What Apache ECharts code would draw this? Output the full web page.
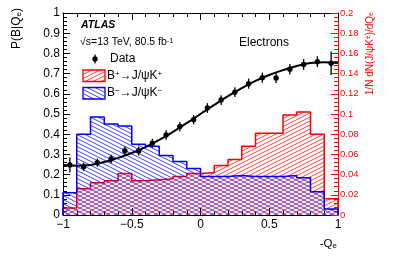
<!DOCTYPE html>
<html><head><meta charset="utf-8">
<script src="https://cdn.jsdelivr.net/npm/echarts@6/dist/echarts.min.js"></script>
<style>html,body{margin:0;padding:0;background:#fff}#c{width:399px;height:257px}</style>
</head><body><div id="c"></div>
<script>
// ---- data ----
const binEdges = [-1,-0.9,-0.8,-0.7,-0.6,-0.5,-0.4,-0.3,-0.2,-0.1,0,0.1,0.2,0.3,0.4,0.5,0.6,0.7,0.8,0.9,1];
const bPlus  = [0.007,0.026,0.032,0.034,0.041,0.034,0.035,0.036,0.038,0.041,0.042,0.049,0.055,0.068,0.081,0.081,0.099,0.102,0.080,0.016];
const bMinus = [0.022,0.080,0.097,0.090,0.088,0.070,0.068,0.059,0.053,0.046,0.038,0.038,0.039,0.038,0.038,0.038,0.039,0.037,0.023,0.006];
const dataX  = [-0.95,-0.85,-0.75,-0.65,-0.55,-0.45,-0.35,-0.25,-0.15,-0.05,0.05,0.15,0.25,0.35,0.45,0.55,0.65,0.75,0.85,0.95];
const dataY  = [0.248,0.239,0.259,0.277,0.318,0.317,0.355,0.396,0.438,0.472,0.530,0.569,0.608,0.650,0.680,0.678,0.722,0.745,0.759,0.751];
const dataErr= [0.037,0.020,0.020,0.021,0.022,0.022,0.022,0.023,0.023,0.023,0.024,0.024,0.024,0.025,0.025,0.025,0.026,0.027,0.027,0.058];
const fitX   = [-1,-0.9,-0.8,-0.7,-0.6,-0.5,-0.4,-0.3,-0.2,-0.1,0,0.1,0.2,0.3,0.4,0.5,0.6,0.7,0.8,0.9,1];
const fitY   = [0.247,0.244,0.248,0.262,0.283,0.307,0.336,0.372,0.412,0.455,0.500,0.545,0.588,0.628,0.664,0.693,0.717,0.738,0.752,0.756,0.753];
const xTickLabels = ['\u22121','\u22120.5','0','0.5','1'];
const leftTickLabels = ['0','0.1','0.2','0.3','0.4','0.5','0.6','0.7','0.8','0.9','1'];
const rightTickLabels = ['0','0.02','0.04','0.06','0.08','0.1','0.12','0.14','0.16','0.18','0.2'];

const FONT = '"Liberation Sans", Arial, Helvetica, sans-serif';
const RED = '#ff0000', BLUE = '#0000ff';

function hatch(color, dir) {
  const W = 8, H = 4;
  const c = document.createElement('canvas'); c.width = W; c.height = H;
  const g = c.getContext('2d');
  g.strokeStyle = color; g.lineWidth = 1;
  for (let m = -3; m <= 3; m++) {
    g.beginPath();
    if (dir > 0) { g.moveTo(-W, 2*H + m*H); g.lineTo(2*W, -H + m*H); }
    else { g.moveTo(-W, -H + m*H); g.lineTo(2*W, 2*H + m*H); }
    g.stroke();
  }
  return { image: c, repeat: 'repeat' };
}
const redHatch = hatch('rgba(255,0,0,0.75)', 1);
const blueHatch = hatch('rgba(0,0,255,0.75)', -1);

function histData(vals) {
  const d = [[binEdges[0], 0]];
  vals.forEach((v, i) => d.push([binEdges[i], v]));
  d.push([binEdges[binEdges.length - 1], vals[vals.length - 1]]);
  d.push([binEdges[binEdges.length - 1], 0]);
  return d;
}

const chart = echarts.init(document.getElementById('c'), null, { renderer: 'canvas' });
const tickCommon = { inside: true, length: 7, lineStyle: { color: '#000', width: 1 } };
const minorCommon = { show: true, splitNumber: 5, length: 4, lineStyle: { color: '#000', width: 1 } };

chart.setOption({
  animation: false,
  backgroundColor: '#fff',
  grid: { left: 63, right: 61, top: 13, bottom: 42, containLabel: false },
  xAxis: [
    { type: 'value', min: -1, max: 1, interval: 0.5, position: 'bottom',
      axisLine: { onZero: false, lineStyle: { color: '#000', width: 1 } },
      axisTick: tickCommon, minorTick: minorCommon, splitLine: { show: false },
      axisLabel: { color: '#000', fontSize: 12, fontFamily: FONT, margin: 4,
        formatter: v => xTickLabels[Math.round((v + 1) * 2)] } },
    { type: 'value', min: -1, max: 1, interval: 0.5, position: 'top',
      axisLine: { onZero: false, lineStyle: { color: '#000', width: 1 } },
      axisTick: tickCommon, minorTick: minorCommon, splitLine: { show: false },
      axisLabel: { show: false } }
  ],
  yAxis: [
    { type: 'value', min: 0, max: 1, interval: 0.1, position: 'left',
      axisLine: { onZero: false, lineStyle: { color: '#000', width: 1 } },
      axisTick: tickCommon, minorTick: minorCommon, splitLine: { show: false },
      axisLabel: { color: '#000', fontSize: 12, fontFamily: FONT, margin: 3,
        formatter: v => leftTickLabels[Math.round(v * 10)] } },
    { type: 'value', min: 0, max: 0.2, interval: 0.02, position: 'right',
      axisLine: { onZero: false, lineStyle: { color: RED, width: 1 } },
      axisTick: { inside: true, length: 7, lineStyle: { color: RED } },
      minorTick: { show: true, splitNumber: 5, length: 4, lineStyle: { color: RED } },
      splitLine: { show: false },
      axisLabel: { color: RED, fontSize: 9.5, fontFamily: FONT, margin: 2,
        formatter: v => rightTickLabels[Math.round(v * 50)] } }
  ],
  series: [
    { name: 'B+', type: 'line', xAxisIndex: 0, yAxisIndex: 1, step: 'end', symbol: 'none',
      data: histData(bPlus), lineStyle: { color: RED, width: 1.5 }, areaStyle: { color: redHatch, opacity: 1 }, z: 2 },
    { name: 'B-', type: 'line', xAxisIndex: 0, yAxisIndex: 1, step: 'end', symbol: 'none',
      data: histData(bMinus), lineStyle: { color: BLUE, width: 1.5 }, areaStyle: { color: blueHatch, opacity: 1 }, z: 3 },
    { name: 'Fit', type: 'line', xAxisIndex: 0, yAxisIndex: 0, smooth: 0.4, symbol: 'none',
      data: fitX.map((x, i) => [x, fitY[i]]), lineStyle: { color: '#000', width: 2 }, z: 5 },
    { name: 'Data', type: 'custom', xAxisIndex: 0, yAxisIndex: 0, z: 6,
      data: dataX.map((x, i) => [x, dataY[i], dataErr[i]]),
      encode: { x: 0, y: 1 },
      renderItem: function (params, api) {
        const x = api.value(0), y = api.value(1), e = api.value(2);
        const p = api.coord([x, y]), lo = api.coord([x, y - e]), hi = api.coord([x, y + e]);
        return { type: 'group', children: [
          { type: 'line', shape: { x1: p[0], y1: lo[1], x2: p[0], y2: hi[1] }, style: { stroke: '#000', lineWidth: 1.3 } },
          { type: 'circle', shape: { cx: p[0], cy: p[1], r: 2.7 }, style: { fill: '#000' } }
        ] };
      } }
  ],
  graphic: [
    { type: 'text', x: 81, y: 25, style: { text: 'ATLAS', font: 'italic bold 10.5px ' + FONT, fill: '#000', verticalAlign: 'middle' } },
    { type: 'text', x: 80, y: 42, style: { text: '{a|\u221As=13 TeV, 80.5 fb}{s|-1}', verticalAlign: 'middle',
      rich: { a: { fontSize: 10.5, fontFamily: FONT, fill: '#000' }, s: { fontSize: 7.5, fontFamily: FONT, fill: '#000', verticalAlign: 'top' } } } },
    { type: 'line', shape: { x1: 95, y1: 54.5, x2: 95, y2: 63.5 }, style: { stroke: '#000', lineWidth: 1.3 } },
    { type: 'circle', shape: { cx: 95, cy: 59, r: 2.7 }, style: { fill: '#000' } },
    { type: 'text', x: 110, y: 59, style: { text: 'Data', font: '12px ' + FONT, fill: '#000', verticalAlign: 'middle' } },
    { type: 'rect', shape: { x: 83, y: 70, width: 22, height: 11.5 }, style: { fill: redHatch, stroke: RED, lineWidth: 1.3 } },
    { type: 'text', x: 107, y: 76, style: { text: '{a|B}{s|+}{a|\u2192J/\u03C8K}{s|+}', verticalAlign: 'middle',
      rich: { a: { fontSize: 12, fontFamily: FONT, fill: '#000' }, s: { fontSize: 8, fontFamily: FONT, fill: '#000', verticalAlign: 'top' } } } },
    { type: 'rect', shape: { x: 83, y: 87.5, width: 22, height: 11.5 }, style: { fill: blueHatch, stroke: BLUE, lineWidth: 1.3 } },
    { type: 'text', x: 107, y: 93, style: { text: '{a|B}{s|\u2212}{a|\u2192J/\u03C8K}{s|\u2212}', verticalAlign: 'middle',
      rich: { a: { fontSize: 12, fontFamily: FONT, fill: '#000' }, s: { fontSize: 8, fontFamily: FONT, fill: '#000', verticalAlign: 'top' } } } },
    { type: 'text', x: 239, y: 43, style: { text: 'Electrons', font: '12px ' + FONT, fill: '#000', verticalAlign: 'middle' } },
    { type: 'text', x: 17, y: 8, rotation: Math.PI / 2, style: { text: '{a|P(B|Q}{s|e}{a|)}', align: 'right', verticalAlign: 'middle',
      rich: { a: { fontSize: 12, fontFamily: FONT, fill: '#000' }, s: { fontSize: 8, fontFamily: FONT, fill: '#000', verticalAlign: 'bottom' } } } },
    { type: 'text', x: 370, y: 12, rotation: Math.PI / 2, style: { text: '{a|1/N dN(J/\u03C8K}{s|\u00B1}{a|)/dQ}{b|e}', align: 'right', verticalAlign: 'middle',
      rich: { a: { fontSize: 10, fontFamily: FONT, fill: RED }, s: { fontSize: 7, fontFamily: FONT, fill: RED, verticalAlign: 'top' }, b: { fontSize: 7, fontFamily: FONT, fill: RED, verticalAlign: 'bottom' } } } },
    { type: 'text', x: 337, y: 244, style: { text: '{a|-Q}{s|e}', align: 'right', verticalAlign: 'middle',
      rich: { a: { fontSize: 11.5, fontFamily: FONT, fill: '#000' }, s: { fontSize: 8, fontFamily: FONT, fill: '#000', verticalAlign: 'bottom' } } } }
  ]
});
</script>
</body></html>
